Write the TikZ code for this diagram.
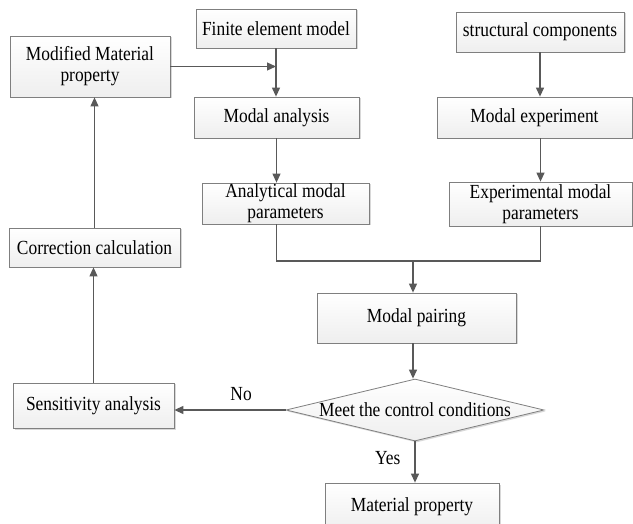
\documentclass[tikz,border=0pt]{standalone}
\usepackage{fontspec}
\setmainfont[FakeStretch=0.87]{Liberation Serif}
\usetikzlibrary{shapes.geometric,arrows.meta,shadows}
\definecolor{edgec}{HTML}{7F7F7F}
\definecolor{arrc}{HTML}{595959}
\begin{document}
\begin{tikzpicture}[x=1pt,y=-1pt,
  box/.style={draw=edgec, line width=0.8pt, top color=white, bottom color=gray!13,
    drop shadow={shadow xshift=1.5pt, shadow yshift=-1.5pt, opacity=0.3, fill=gray},
    inner sep=0pt, align=center, font=\fontsize{20}{21}\selectfont},
  decision/.style={box, diamond, minimum width=258pt, minimum height=62pt},
  arrow/.style={draw=arrc, line width=1.2pt, -{Triangle[length=9pt,width=8pt]}},
  conn/.style={draw=arrc, line width=1.2pt},
  lbl/.style={font=\fontsize{20}{21}\selectfont, inner sep=0pt}
]
\useasboundingbox (0,0) rectangle (633,524);
\clip (0,0) rectangle (633,524);
\fill[white] (0,0) rectangle (633,524);

\node[box, minimum width=160pt, minimum height=39pt] (fem) at (276,28.5) {Finite element model};
\node[box, minimum width=160pt, minimum height=61pt] (mmp) at (90,66.5) {Modified Material\\property};
\node[box, minimum width=165pt, minimum height=41pt] (ma) at (276.5,117.5) {Modal analysis};
\node[box, minimum width=168pt, minimum height=40pt] (sc) at (540,32) {structural components};
\node[box, minimum width=195pt, minimum height=41pt] (me) at (534.5,117.5) {Modal experiment};
\node[box, minimum width=167pt, minimum height=41pt] (amp) at (285.5,203.5) {Analytical modal\\parameters};
\node[box, minimum width=183pt, minimum height=44pt] (emp) at (540.5,204) {Experimental modal\\parameters};
\node[box, minimum width=171pt, minimum height=39pt] (cc) at (94.5,247.5) {Correction calculation};
\node[box, minimum width=199pt, minimum height=50pt] (mp) at (416.5,318) {Modal pairing};
\node[decision] (dm) at (415,410) {\makebox[0pt]{Meet the control conditions}};
\node[box, minimum width=161pt, minimum height=45pt] (sa) at (93.5,405.5) {Sensitivity analysis};
\node[box, minimum width=174pt, minimum height=48pt] (mprop) at (412,507) {Material property};

\coordinate (j) at (413,261);

\draw[arrow] (fem.south) -- (fem.south |- ma.north);
\draw[arrow] (mmp.east) -- (mmp.east -| fem.south);
\draw[arrow] (ma.south) -- (ma.south |- amp.north);
\draw[arrow] (sc.south) -- (sc.south |- me.north);
\draw[arrow] (emp.north |- me.south) -- (emp.north);
\draw[conn] (amp.south -| ma.south) |- (j) -| (emp.south);
\draw[arrow] (j) -- (j |- mp.north);
\draw[arrow] (j |- mp.south) -- (j |- dm.north);
\draw[arrow] (dm.west) -- (dm.west -| sa.east) node[lbl, pos=0.4, above=9pt] {No};
\draw[arrow] (dm.south) -- (dm.south |- mprop.north) node[lbl, pos=0.4, left=14pt] {Yes};
\draw[arrow] (sa.north) -- (sa.north |- cc.south);
\draw[arrow] (cc.north) -- (cc.north |- mmp.south);
\end{tikzpicture}
\end{document}
